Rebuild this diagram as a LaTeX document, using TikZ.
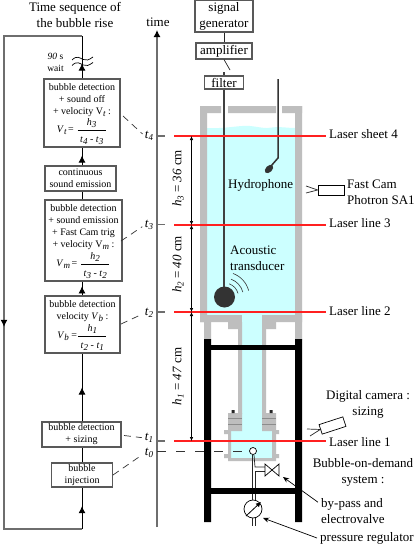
\documentclass[tikz,border=0pt]{standalone}
\usepackage{fontspec}
\setmainfont{Liberation Serif}
\usetikzlibrary{arrows.meta,decorations.markings,calc}
\definecolor{wat}{HTML}{CCFFFF}
\definecolor{wall}{HTML}{BEBEBE}
\definecolor{axisg}{HTML}{6E6E6E}
\definecolor{redl}{HTML}{FF2020}
\newcommand{\dn}[1]{\raisebox{-0.4ex}{\fontsize{9}{9}\selectfont\itshape #1}}
\newcommand{\iv}[1]{\textit{#1}}
\newcommand{\frc}[2]{$\displaystyle\frac{\hbox{#1\rule[-2pt]{0pt}{2pt}}}{\hbox{\rule{0pt}{11pt}\ #2\ }}$}
\tikzset{
  flow/.style={draw=black!65,line width=1.1pt,fill=white,inner sep=0pt,align=center,font=\fontsize{10}{12}\selectfont},
  conn/.style={black,line width=0.8pt},
  flowup/.style={conn,postaction={decorate},decoration={markings,mark=at position #1 with {\arrow{Latex[length=7pt,width=7pt]}}}},
  loopline/.style={axisg,line width=1.2pt},
  dash link/.style={black!80,line width=0.7pt,dash pattern=on 7pt off 5pt,shorten >=3pt},
  big/.style={font=\fontsize{13}{16}\selectfont,inner sep=0pt},
  tlab/.style={font=\fontsize{13}{13}\selectfont\itshape,inner sep=0pt},
  laser/.style={redl,line width=1.4pt},
  hdim/.style={black,line width=0.6pt,{Latex[length=4pt,width=3.5pt]}-{Latex[length=4pt,width=3.5pt]}},
  gwall/.style={fill=wall,draw=none},
  thin line/.style={black!85,line width=0.7pt}
}
\begin{document}
\begin{tikzpicture}[x=1pt,y=-1pt]
\useasboundingbox (0,0) rectangle (417,546);
\fill[white] (0,0) rectangle (417,546);

% titles
\node[big,align=center] (title) at (75,15) {Time sequence of\\the bubble rise};
\node[big] (timelab) at (158,22) {time};

% coordinates of the loop
\coordinate (sp) at (82,0);
\coordinate (lt) at (4,36);
\coordinate (lb) at (4,529);
\coordinate (st) at (82,36);
\coordinate (sb) at (82,529);

% flow boxes
\node[flow,minimum width=76pt,minimum height=68pt] (b1) at (82,113)
 {\rule{0pt}{9pt}bubble detection\\+ sound off\\+ velocity V\dn{t} :\\[1pt]\iv{V}\dn{t}\,= \frc{\iv{h}\dn{3}}{\iv{t}\dn{4} - \iv{t}\dn{3}}};
\node[flow,minimum width=71pt,minimum height=25pt] (b2) at (80.5,178.5) {continuous\\sound emission};
\node[flow,minimum width=77pt,minimum height=81pt] (b3) at (83.5,240.5)
 {\rule{0pt}{9pt}bubble detection\\+ sound emission\\+ Fast Cam trig\\+ velocity V\dn{m} :\\[2pt]\iv{V}\dn{m}\,= \frc{\iv{h}\dn{2}}{\iv{t}\dn{3} - \iv{t}\dn{2}}};
\node[flow,minimum width=75pt,minimum height=57pt] (b4) at (82.5,324.5)
 {\rule{0pt}{9pt}bubble detection\\velocity \iv{V}\dn{b} :\\[2pt]\iv{V}\dn{b} =\frc{\iv{h}\dn{1}}{\iv{t}\dn{2} - \iv{t}\dn{1}}};
\node[flow,minimum width=79pt,minimum height=25pt] (b5) at (81.5,434.5) {bubble detection\\+ sizing};
\node[flow,minimum width=61pt,minimum height=24pt] (b6) at (82,475) {bubble\\injection};

% loop and connectors
\draw[loopline] (st) -- (lt) -- (lb) -- (sb);
\draw[loopline,postaction={decorate},decoration={markings,mark=at position 0.59 with {\arrow[black]{Latex[length=7pt,width=7pt]}}}] (lt) -- (lb);
\draw[flowup=0.35] (b1.north -| sp) -- (st);
\draw[flowup=0.55] (b2.north -| sp) -- (b1.south -| sp);
\draw[conn] (b3.north -| sp) -- (b2.south -| sp);
\draw[flowup=0.65] (b4.north -| sp) -- (b3.south -| sp);
\draw[flowup=0.5] (b5.north -| sp) -- (b4.south -| sp);
\draw[conn] (b6.north -| sp) -- (b5.south -| sp);
\draw[flowup=0.55] (sb) -- (b6.south -| sp);

% wait
\draw[black,line width=0.7pt] (72,60) .. controls (77,55) and (80,58) .. (83,59.5) .. controls (86,61) and (89,60) .. (93,57);
\draw[black,line width=0.7pt] (72,65.5) .. controls (77,60.5) and (80,63.5) .. (83,65) .. controls (86,66.5) and (89,65.5) .. (93,62.5);
\node[font=\fontsize{9.5}{12}\selectfont,align=center,inner sep=0pt] (wait) at (55.5,62) {\iv{90} s\\wait};

% time axis
\coordinate (ab) at (157,527);
\coordinate (at) at (157,30);
\draw[axisg,line width=1.2pt,-{Latex[length=7pt,width=7pt,black]}] (ab) -- (at);
\node[tlab] (t4) at (149,136) {t\dn{4}};
\node[tlab] (t3) at (149,225) {t\dn{3}};
\node[tlab] (t2) at (149,313) {t\dn{2}};
\node[tlab] (t1) at (149,438) {t\dn{1}};
\node[tlab] (t0) at (149,453) {t\dn{0}};
\draw[dash link] (123,116) -- (t4.west);
\draw[dash link] (121,241) -- (t3.west);
\draw[dash link] (121,324) -- (t2.west);
\draw[dash link] (124,435.5) -- (t1.west);
\draw[dash link] (113,475) -- (t0.west);
\foreach \yy in {136,224.5,312,441}{\draw[axisg,line width=1.2pt] (157,\yy) -- (165,\yy);}

% tank
\fill[wat] (207,128) .. controls (225,129) and (240,125) .. (250,126) .. controls (260,127) and (265,129) .. (272,127.5) .. controls (280,126.5) and (288,128) .. (295,128) -- (295,316) -- (207,316) -- cycle;
\path[gwall] (200,106) rectangle (221,113) (228,106) rectangle (276,113) (282,106) rectangle (302,113);
\path[gwall] (200,106) rectangle (207,322) (295,106) rectangle (302,322);
\path[gwall] (200,315) rectangle (242,322) (262,315) rectangle (302,322);
\path[gwall] (228,322) rectangle (242,329) (262,322) rectangle (276,329);
\path[gwall] (204,322) rectangle (211,340) (295,322) rectangle (302,340);
% neck
\fill[wat] (242,315) rectangle (262,432);
\path[gwall] (238,322) rectangle (242,414) (262,322) rectangle (266,414);
% chamber
\fill[wat] (231,431) rectangle (272,458);
\path[gwall] (228,413) rectangle (242,431) (262,413) rectangle (276,431);
\path[gwall] (228,431) rectangle (231,461) (272,431) rectangle (276,461) (228,458) rectangle (276,461);
\path[gwall] (224,430) rectangle (228,434) (224,454) rectangle (228,458) (276,430) rectangle (279,434) (276,454) rectangle (279,458);
\draw[black!45,line width=0.4pt] (228,418) -- (242,418) (228,424) -- (242,424) (262,418) -- (276,418) (262,424) -- (276,424);
\fill[black!85] (231.5,410) rectangle (234.5,413) (269.5,410) rectangle (272.5,413);

% t0 dashed line
\node[draw=black,line width=0.7pt,fill=white,circle,minimum size=7pt,inner sep=0pt] (nozzle) at (253,451) {};
\draw[black!80,line width=0.7pt,dash pattern=on 9pt off 10pt] (157,451) -- (nozzle.west);

% frame
\fill[black] (204,339) rectangle (211,522) (295,339) rectangle (302,522);
\fill[black] (204,345) rectangle (302,350);

% pipework
\node[draw=black,line width=0.7pt,fill=white,circle,minimum size=18pt,inner sep=0pt] (gauge) at (253,509) {};
\draw[thin line] (nozzle.south) ++(-1,0) -- (252,500);
\draw[thin line] (nozzle.south) ++(1,0) -- (255,467) -- (265,467);
\draw[thin line] (255,471) -- (265,471);
\draw[thin line] (255,471) -- (255,500);
\fill[black] (204,488) rectangle (302,494);
\draw[thin line] (252,518) -- (252,526) (255,518) -- (255,526);
\draw[black,line width=0.7pt,fill=white] (265,464) -- (279,476) -- (279,464) -- (265,476) -- cycle;
\draw[black,line width=0.8pt,-{Latex[length=5pt,width=5pt]}] (246,516) -- (261,502);

% transducer and hydrophone
\draw[black!75,line width=1.5pt] (224,72) -- (224,290);
\fill[black!80] (224.5,297) circle (10.5);
\foreach \rr in {14,19,25}{\draw[black!80,line width=0.6pt] ($(224.5,297)+(-15:\rr)$) arc[start angle=-15,end angle=-70,radius=\rr];}
\draw[black!80,line width=1.5pt] (278,79) -- (278,158) -- (271,166);
\fill[black!80,rotate around={45:(269,169)}] (269,169) ellipse (5 and 3.2);

% apparatus boxes
\node[flow,minimum width=58pt,minimum height=32pt,font=\fontsize{13}{16}\selectfont] (sig) at (224,16) {signal\\generator};
\node[flow,minimum width=56pt,minimum height=16pt,font=\fontsize{13}{16}\selectfont] (amp) at (224,51) {amplifier};
\node[flow,minimum width=39.5pt,minimum height=13pt,font=\fontsize{13}{16}\selectfont] (fil) at (224,82.5) {filter};
\coordinate (cab) at (230,70);
\draw[thin line] (sig.south) -- (amp.north);
\draw[thin line] (amp.south) -- (cab);

% labels
\node[big,anchor=west] (ls4) at (329,134) {Laser sheet 4};
\node[big,anchor=west] (ls3) at (329,223) {Laser line 3};
\node[big,anchor=west] (ls2) at (329,311) {Laser line 2};
\node[big,anchor=west] (ls1) at (329,442) {Laser line 1};
\node[big,anchor=west] (hyd) at (228,185) {Hydrophone};
\node[big,anchor=west,align=left] (aco) at (230,258) {Acoustic\\transducer};
\node[big,anchor=west,align=left] (fc) at (347,192) {Fast Cam\\Photron SA1};
\node[big,align=center] (dc) at (368,404.5) {Digital camera :\\sizing};
\node[big,align=center] (bod) at (363,472.5) {Bubble-on-demand\\system :};
\node[big,anchor=west,align=left] (byp) at (321,511) {by-pass and\\electrovalve};
\node[big,anchor=west] (preg) at (320,538) {pressure regulator};

% red lines
\coordinate (r4) at (174,136);
\coordinate (r3) at (174,225);
\coordinate (r2) at (174,312);
\coordinate (r1) at (174,441);
\draw[laser] (r4) -- (326,136);
\draw[laser] (r3) -- (326,225);
\draw[laser] (r2) -- (326,312);
\draw[laser] (r1) -- (326,441);

% dimensions
\draw[hdim] (191.5,136) -- (191.5,225);
\draw[hdim] (191.5,225) -- (191.5,312);
\draw[hdim] (191.5,312) -- (191.5,441);
\node[big,rotate=90] (h3) at (178,178.5) {\iv{h}\dn{3} = \iv{36} cm};
\node[big,rotate=90] (h2) at (178,264.5) {\iv{h}\dn{2} = \iv{40} cm};
\node[big,rotate=90] (h1) at (178,376.5) {\iv{h}\dn{1} = \iv{47} cm};

% cameras
\node[draw=black,line width=0.7pt,fill=white,minimum width=26pt,minimum height=10pt,inner sep=0pt] (fcam) at (331,190) {};
\draw[thin line] (306,186) -- (fcam.west) -- (306,193);
\node[draw=black,line width=0.7pt,fill=white,minimum width=25pt,minimum height=10pt,inner sep=0pt,rotate=18] (dcam) at (332.5,425.5) {};
\draw[thin line] (307,429) -- (dcam.west) -- (310,436);

% leaders
\draw[black,line width=0.7pt,-{Stealth[length=6pt,width=5pt]}] (byp.north west) ++(-3,4) -- (283,477);
\draw[black,line width=0.7pt,-{Stealth[length=6pt,width=5pt]}] (preg.west) ++(-3,0) -- (263,518);
\end{tikzpicture}
\end{document}
